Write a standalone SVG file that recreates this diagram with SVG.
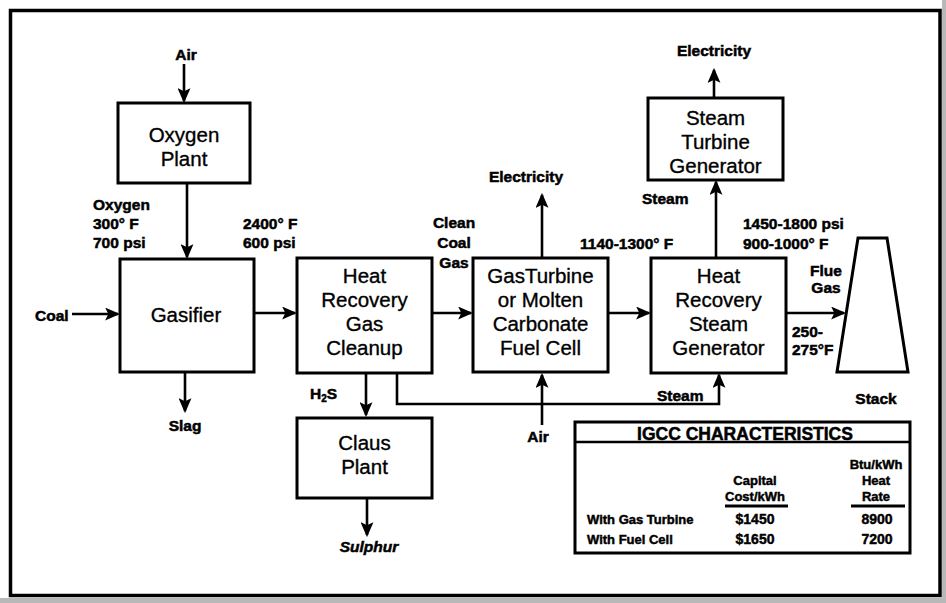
<svg xmlns="http://www.w3.org/2000/svg" width="946" height="603" viewBox="0 0 946 603">
<defs>
<style>
.box{fill:#fff;stroke:#000;stroke-width:3}
.bt{font-family:"Liberation Sans",Arial,sans-serif;font-size:20.5px;fill:#000;text-anchor:middle;stroke:#000;stroke-width:0.35}
.lb{font-family:"Liberation Sans",Arial,sans-serif;font-weight:bold;font-size:15.5px;fill:#000;stroke:#000;stroke-width:0.5}
.tb{font-family:"Liberation Sans",Arial,sans-serif;font-weight:bold;font-size:13px;fill:#000;stroke:#000;stroke-width:0.45}
.num{font-size:14px}
.ttl{font-size:17.5px}
.c{text-anchor:middle}
.ln{fill:none;stroke:#000;stroke-width:2.6}
</style>
<marker id="ah" viewBox="0 0 14 12" refX="12" refY="6" markerWidth="15" markerHeight="13" orient="auto" markerUnits="userSpaceOnUse">
<path d="M0,0 L14,6 L0,12 L3,6 z" fill="#000"/>
</marker>
</defs>
<rect width="946" height="603" fill="#fff"/>
<rect x="942" y="0" width="4" height="603" fill="#b8b8b8"/>
<rect x="0" y="598" width="946" height="5" fill="#b8b8b8"/>
<rect x="10.5" y="10.5" width="929.5" height="585" fill="none" stroke="#000" stroke-width="3.5"/>

<g id="connectors">
<line class="ln" x1="184" y1="64" x2="184" y2="101" marker-end="url(#ah)"/>
<line class="ln" x1="187" y1="183" x2="187" y2="257" marker-end="url(#ah)"/>
<line class="ln" x1="72" y1="314" x2="118" y2="314" marker-end="url(#ah)"/>
<line class="ln" x1="185" y1="372" x2="185" y2="411" marker-end="url(#ah)"/>
<line class="ln" x1="254" y1="313" x2="295" y2="313" marker-end="url(#ah)"/>
<line class="ln" x1="432" y1="313" x2="471" y2="313" marker-end="url(#ah)"/>
<line class="ln" x1="366" y1="373" x2="366" y2="415" marker-end="url(#ah)"/>
<line class="ln" x1="367" y1="498" x2="367" y2="535" marker-end="url(#ah)"/>
<line class="ln" x1="542" y1="258" x2="542" y2="195" marker-end="url(#ah)"/>
<line class="ln" x1="542" y1="425" x2="542" y2="375" marker-end="url(#ah)"/>
<line class="ln" x1="608" y1="313" x2="649" y2="313" marker-end="url(#ah)"/>
<path class="ln" d="M397 373 V404 H719 V375" marker-end="url(#ah)"/>
<line class="ln" x1="716" y1="258" x2="716" y2="182" marker-end="url(#ah)"/>
<line class="ln" x1="714" y1="98" x2="714" y2="70" marker-end="url(#ah)"/>
<line class="ln" x1="786" y1="313" x2="844" y2="313" marker-end="url(#ah)"/>
</g>

<g id="oxygen-plant">
<rect class="box" x="118" y="103" width="132" height="80"/>
<text class="bt" x="184" y="142">Oxygen</text>
<text class="bt" x="184" y="166">Plant</text>
</g>

<g id="gasifier">
<rect class="box" x="120" y="259" width="134" height="113"/>
<text class="bt" x="186" y="322">Gasifier</text>
</g>

<g id="heat-recovery-gas-cleanup">
<rect class="box" x="297" y="258" width="135" height="115"/>
<text class="bt" x="364.5" y="283">Heat</text>
<text class="bt" x="364.5" y="307">Recovery</text>
<text class="bt" x="364.5" y="331">Gas</text>
<text class="bt" x="364.5" y="355">Cleanup</text>
</g>

<g id="claus-plant">
<rect class="box" x="297" y="418" width="135" height="80"/>
<text class="bt" x="364.5" y="450">Claus</text>
<text class="bt" x="364.5" y="474">Plant</text>
</g>

<g id="gas-turbine-fuel-cell">
<rect class="box" x="473" y="258" width="135" height="114"/>
<text class="bt" x="540.5" y="283">GasTurbine</text>
<text class="bt" x="540.5" y="307">or Molten</text>
<text class="bt" x="540.5" y="331">Carbonate</text>
<text class="bt" x="540.5" y="355">Fuel Cell</text>
</g>

<g id="hrsg">
<rect class="box" x="651" y="258" width="135" height="115"/>
<text class="bt" x="718.5" y="283">Heat</text>
<text class="bt" x="718.5" y="307">Recovery</text>
<text class="bt" x="718.5" y="331">Steam</text>
<text class="bt" x="718.5" y="355">Generator</text>
</g>

<g id="steam-turbine-generator">
<rect class="box" x="648" y="98" width="135" height="82"/>
<text class="bt" x="715.5" y="125">Steam</text>
<text class="bt" x="715.5" y="149">Turbine</text>
<text class="bt" x="715.5" y="173">Generator</text>
</g>

<g id="stack">
<polygon class="box" points="858,238 887,238 908,372 837,372"/>
<text class="lb c" x="876" y="404">Stack</text>
</g>

<g id="labels">
<text class="lb c" x="186" y="60">Air</text>
<text class="lb" x="93" y="210">Oxygen</text>
<text class="lb" x="93" y="229">300° F</text>
<text class="lb" x="93" y="248">700 psi</text>
<text class="lb" x="243" y="229">2400° F</text>
<text class="lb" x="243" y="248">600 psi</text>
<text class="lb" x="35" y="321">Coal</text>
<text class="lb c" x="185" y="431">Slag</text>
<text class="lb" x="310" y="399">H<tspan style="font-size:10px" dy="3">2</tspan><tspan dy="-3">S</tspan></text>
<text class="lb c" x="369" y="552" style="font-style:italic">Sulphur</text>
<text class="lb c" x="454" y="228">Clean</text>
<text class="lb c" x="454" y="248">Coal</text>
<text class="lb c" x="454" y="268">Gas</text>
<text class="lb c" x="526" y="182">Electricity</text>
<text class="lb c" x="538" y="442">Air</text>
<text class="lb" x="580" y="249">1140-1300° F</text>
<text class="lb" x="657" y="401">Steam</text>
<text class="lb" x="642" y="204">Steam</text>
<text class="lb c" x="714" y="56">Electricity</text>
<text class="lb" x="743" y="229">1450-1800 psi</text>
<text class="lb" x="743" y="249">900-1000° F</text>
<text class="lb c" x="826" y="276">Flue</text>
<text class="lb c" x="826" y="293">Gas</text>
<text class="lb" x="792" y="337">250-</text>
<text class="lb" x="792" y="355">275°F</text>
</g>

<g id="igcc-table">
<rect x="575" y="422" width="335" height="131" fill="#fff" stroke="#000" stroke-width="3"/>
<line x1="575" y1="442" x2="910" y2="442" stroke="#000" stroke-width="2.5"/>
<text class="lb c ttl" x="745" y="440">IGCC CHARACTERISTICS</text>
<text class="tb c" x="755" y="485">Capital</text>
<text class="tb c" x="755" y="501">Cost/kWh</text>
<text class="tb c" x="876" y="469">Btu/kWh</text>
<text class="tb c" x="876" y="485">Heat</text>
<text class="tb c" x="876" y="501">Rate</text>
<line x1="725" y1="506" x2="788" y2="506" stroke="#000" stroke-width="3"/>
<line x1="851" y1="506" x2="905" y2="506" stroke="#000" stroke-width="3"/>
<text class="tb" x="587" y="524">With Gas Turbine</text>
<text class="tb c num" x="755" y="524">$1450</text>
<text class="tb c num" x="877" y="524">8900</text>
<text class="tb" x="587" y="544">With Fuel Cell</text>
<text class="tb c num" x="755" y="544">$1650</text>
<text class="tb c num" x="877" y="544">7200</text>
</g>
</svg>
